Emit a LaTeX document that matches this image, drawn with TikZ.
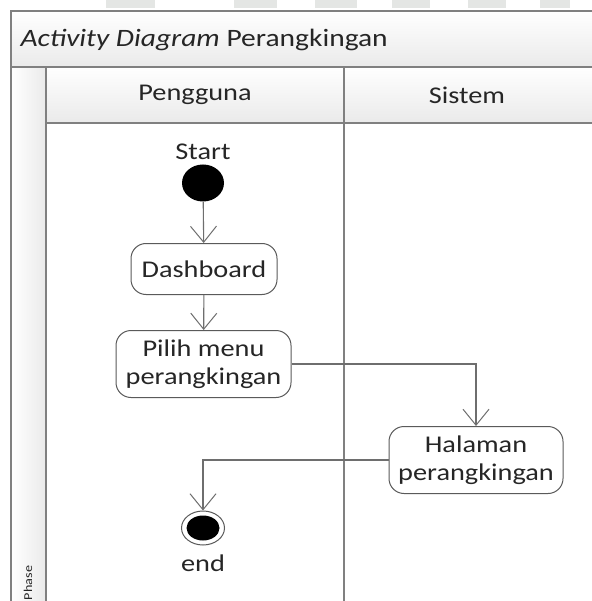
\documentclass[tikz,border=0pt]{standalone}
\usepackage{fontspec}
\setmainfont[FakeStretch=1.18]{Carlito}
\usetikzlibrary{arrows.meta,shapes.geometric}
\definecolor{framegray}{HTML}{808080}
\definecolor{linegray}{HTML}{6E6E6E}
\definecolor{boxgray}{HTML}{5A5A5A}
\definecolor{bandlow}{HTML}{EAEAEA}
\definecolor{wmark}{HTML}{E4E6E4}
\begin{document}
\begin{tikzpicture}[x=1pt,y=-1pt,
  frame/.style={draw=framegray, line width=1.4pt},
  lbl/.style={font=\fontsize{24}{28}\selectfont, text=black!85},
  act/.style={draw=boxgray, line width=1pt, rounded corners=15pt, fill=white,
    align=center, font=\fontsize{24}{28}\selectfont, text=black!85, inner sep=0pt},
  flow/.style={draw=linegray, line width=1.1pt,
    -{Straight Barb[length=16pt, width=26pt, line width=1pt]}},
]
\useasboundingbox (0,0) rectangle (591,601);
\fill[white] (0,0) rectangle (591,601);

% faint page blocks along the upper edge
\foreach \a/\b in {106/155,234/277,315/357,392/430,468/506,540/570}
  \fill[wmark] (\a,0) rectangle (\b,8);

% swimlane frame: title band, lane headers, phase column
\shade[top color=white, bottom color=bandlow] (11,11) rectangle (595,67);
\shade[top color=white, bottom color=bandlow] (46,67) rectangle (595,123);
\shade[left color=white, right color=bandlow] (11,67) rectangle (46,605);
\draw[frame] (595,11) -- (11,11) -- (11,605);
\draw[frame] (11,67) -- (595,67);
\draw[frame] (46,123) -- (595,123);
\draw[frame] (46,67) -- (46,605);
\draw[frame] (344,67) -- (344,605);

\node[lbl, font=\fontsize{25}{29}\selectfont, anchor=west] (title) at (17,40) {\textit{Activity Diagram} Perangkingan};
\node[lbl] (lane1) at (195,95) {Pengguna};
\node[lbl] (lane2) at (467,95) {Sistem};
\node[font=\fontsize{12}{14}\selectfont, text=black!85, rotate=90] (phase) at (28,583) {Phase};

% activity nodes
\node[lbl] (startlbl) at (203,152) {Start};
\node[ellipse, fill=black, minimum width=42pt, minimum height=37pt, inner sep=0pt] (start) at (203,183) {};
\node[act, minimum width=146pt, minimum height=51pt] (dash) at (204,269) {Dashboard};
\node[act, minimum width=175pt, minimum height=67pt] (pilih) at (203.5,364) {Pilih menu\\perangkingan};
\node[act, minimum width=174pt, minimum height=67pt] (halaman) at (476,460) {Halaman\\perangkingan};
\node[ellipse, draw=boxgray, line width=1pt, fill=white, minimum width=43pt, minimum height=34pt, inner sep=0pt] (endo) at (203,528) {};
\node[ellipse, fill=black, minimum width=33pt, minimum height=25pt, inner sep=0pt] (endi) at (endo) {};
\node[lbl] (endlbl) at (203,563) {end};

% control flow
\draw[flow] (start) -- (dash);
\draw[flow] (dash) -- (pilih);
\draw[flow] (pilih.east) -| (halaman.north);
\draw[flow] (halaman.west) -| (endo.north);
\end{tikzpicture}
\end{document}
